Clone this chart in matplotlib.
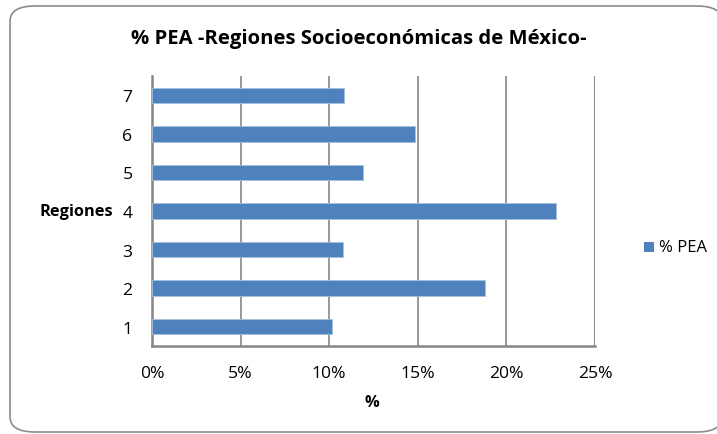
import matplotlib
matplotlib.use("Agg")
import matplotlib.pyplot as plt
from matplotlib.patches import FancyBboxPatch, Rectangle
from matplotlib.ticker import PercentFormatter

plt.rcParams["font.family"] = ["Open Sans", "DejaVu Sans"]

regiones = ["1", "2", "3", "4", "5", "6", "7"]
pea = [10.15, 18.78, 10.77, 22.79, 11.88, 14.84, 10.81]
xticks = [0, 5, 10, 15, 20, 25]

bar_col = "#4F81BD"
grid_col = "#868686"

fig = plt.figure(figsize=(7.17, 4.35), dpi=100)

# rounded chart border
fig.patches.append(FancyBboxPatch((10 / 717, 2 / 435), 712 / 717, 426 / 435,
                                  boxstyle="round,pad=0,rounding_size=0.035",
                                  transform=fig.transFigure, fc="white",
                                  ec="#8c8c8c", lw=1.2, zorder=-5))

ax = fig.add_axes([152 / 717, 1 - 347 / 435, 443 / 717, 270 / 435])
ax.set_facecolor("none")
y = range(len(regiones))
ax.barh(y, pea, height=0.4, color=bar_col, edgecolor="#a7c0de", lw=0.6, zorder=3)

ax.set_xlim(0, 25)
ax.set_ylim(-0.5, len(regiones) - 0.5)
ax.set_xticks(xticks)
ax.xaxis.set_major_formatter(PercentFormatter(decimals=0))
ax.set_yticks(list(y))
ax.set_yticklabels(regiones)
ax.tick_params(axis="both", length=0, labelsize=12.6, colors="#000000")
ax.tick_params(axis="x", pad=14)
ax.tick_params(axis="y", pad=14)
ax.grid(axis="x", color=grid_col, lw=1.2, zorder=1)
for s in ["top", "right"]:
    ax.spines[s].set_visible(False)
ax.spines["left"].set_color(grid_col)
ax.spines["left"].set_linewidth(1.8)
ax.spines["bottom"].set_color(grid_col)
ax.spines["bottom"].set_linewidth(1.8)
ax.axvline(25, color="#b0b0b0", lw=1.6, zorder=1)

fig.text(0.5, 1 - 39 / 435, "% PEA -Regiones Socioeconómicas de México-",
         ha="center", va="center", fontsize=14.6, fontweight="bold")
fig.text(113 / 717, 1 - 212 / 435, "Regiones", ha="right", va="center",
         fontsize=11.8, fontweight="bold")
fig.text(372 / 717, 1 - 403 / 435, "%", ha="center", va="center",
         fontsize=11.8, fontweight="bold")

# legend
fig.patches.append(Rectangle((644 / 717, 1 - 253 / 435), 10 / 717, 10 / 435,
                             transform=fig.transFigure, fc=bar_col, ec="none"))
fig.text(659 / 717, 1 - 248 / 435, "% PEA", ha="left", va="center", fontsize=12)

fig.savefig("out.png", dpi=100, facecolor="white")
